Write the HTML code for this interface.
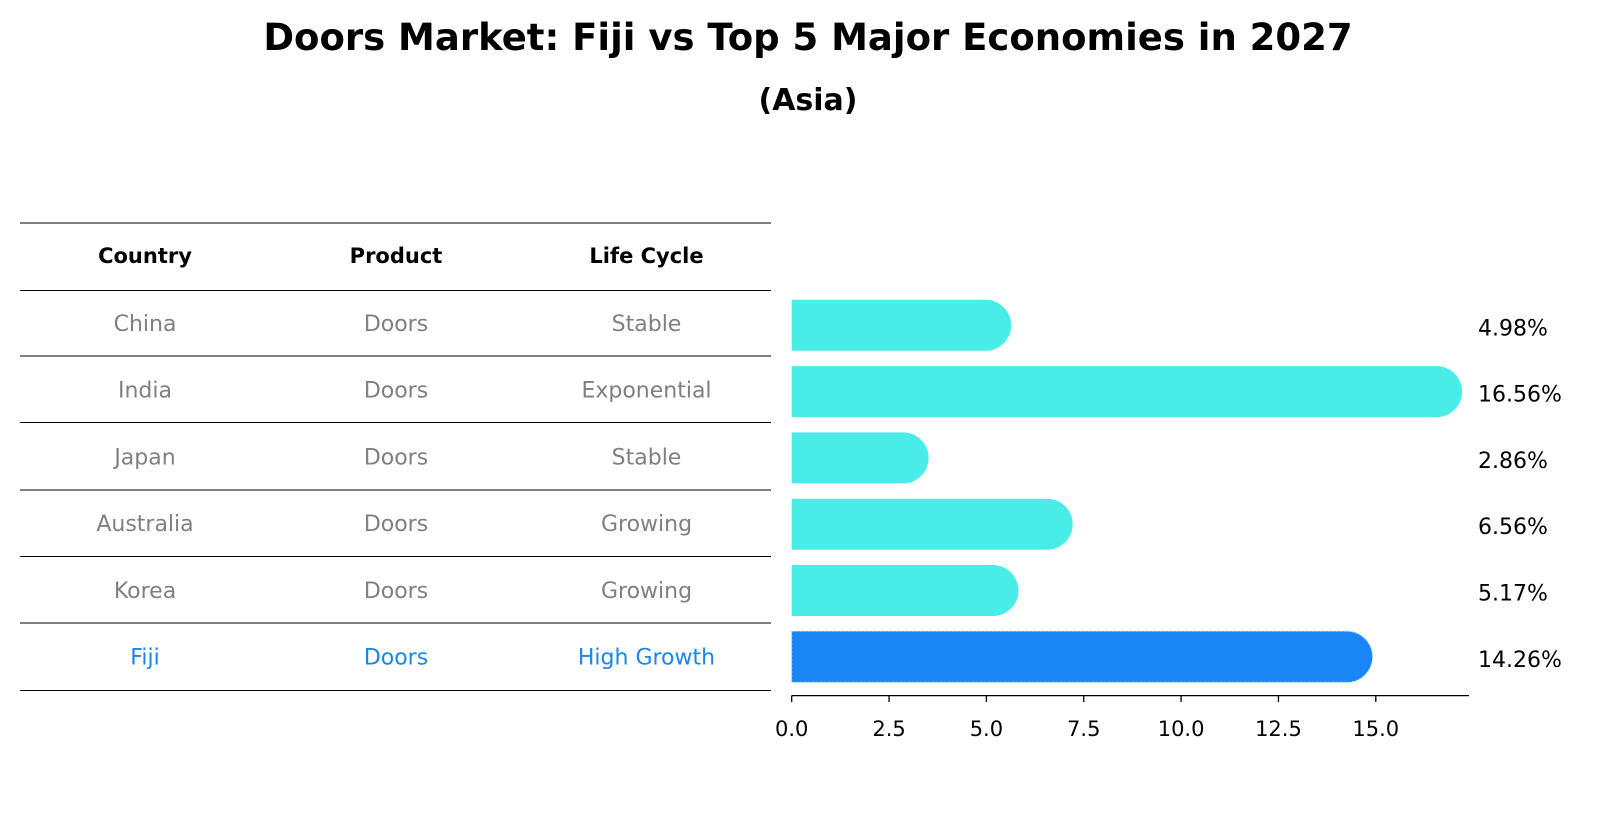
<!DOCTYPE html>
<html><head><meta charset="utf-8"><style>
body{margin:0;background:#fff;font-family:"Liberation Sans","DejaVu Sans",sans-serif}
svg text{font-family:"DejaVu Sans","Liberation Sans",sans-serif}
</style></head><body>
<svg id="c" width="1604" height="823" viewBox="0 0 1604 823" xmlns="http://www.w3.org/2000/svg">
<text x="808" y="50" text-anchor="middle" font-size="37" font-weight="bold">Doors Market: Fiji vs Top 5 Major Economies in 2027</text>
<text x="808" y="110" text-anchor="middle" font-size="30" font-weight="bold">(Asia)</text>
<g id="table"></g>
<g id="bars"></g>
</svg>
<script>
const countries=["China","India","Japan","Australia","Korea","Fiji"];
const products=["Doors","Doors","Doors","Doors","Doors","Doors"];
const lifeCycles=["Stable","Exponential","Stable","Growing","Growing","High Growth"];
const values=[4.98,16.56,2.86,6.56,5.17,14.26];
const valueLabels=["4.98%","16.56%","2.86%","6.56%","5.17%","14.26%"];
const ticks=[0,2.5,5,7.5,10,12.5,15];
const tickLabels=["0.0","2.5","5.0","7.5","10.0","12.5","15.0"];
const NS="http://www.w3.org/2000/svg";
function mk(t,a,p){const e=document.createElementNS(NS,t);for(const k in a)e.setAttribute(k,a[k]);p.appendChild(e);return e;}
const x0=791.7,ppu=(1375.8-791.7)/15;
const xs=v=>x0+v*ppu;
const barY=i=>325.3+i*66.3;
const rowY=i=>323+i*66.7;
const T=document.getElementById('table'),B=document.getElementById('bars');
const lines=[223,290.5,356,422.5,490,556.5,623,690.5];
lines.forEach((y,i)=>{const l=mk('line',{x1:20,x2:771,y1:y,y2:y,stroke:'#000','stroke-width':1},T);

});
const cols=[145,396,646.5];
["Country","Product","Life Cycle"].forEach((h,j)=>{const t=mk('text',{x:cols[j],y:263,'text-anchor':'middle','font-size':21,'font-weight':'bold'},T);t.textContent=h;

});
countries.forEach((c,i)=>{const col=i==5?'#1a86e8':'#808080';
[c,products[i],lifeCycles[i]].forEach((v,j)=>{const t=mk('text',{x:cols[j],y:rowY(i)+8,'text-anchor':'middle','font-size':22,fill:col},T);t.textContent=v;

});
const h=51,r=25.5,y=barY(i)-25.5,xe=xs(values[i]);
const p=mk('path',{d:`M${x0},${y} H${xe} A${r},${r} 0 0 1 ${xe},${y+h} H${x0} Z`,fill:i==5?'#1a86f5':'#4aece8'},B);
if(i==5){p.setAttribute('stroke','#9fd0ff');p.setAttribute('stroke-dasharray','2,2');p.setAttribute('stroke-width','1');}


const t=mk('text',{x:1478,y:barY(i)+10,'font-size':22},B);t.textContent=valueLabels[i];


});
const ax=mk('line',{x1:x0,x2:1469,y1:695.6,y2:695.6,stroke:'#000','stroke-width':1.3},B);


ticks.forEach((v,i)=>{const l=mk('line',{x1:xs(v),x2:xs(v),y1:695.6,y2:702,stroke:'#000','stroke-width':1.3},B);


const t=mk('text',{x:xs(v),y:736,'text-anchor':'middle','font-size':21},B);t.textContent=tickLabels[i];

});
</script>
</body></html>
